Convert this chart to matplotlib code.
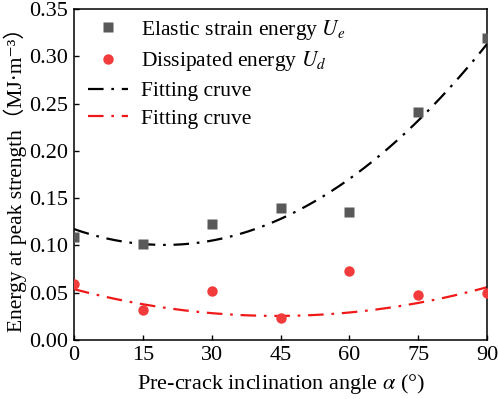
import numpy as np
import matplotlib
matplotlib.use("Agg")
import matplotlib.pyplot as plt

plt.rcParams['font.family'] = ['Liberation Serif', 'DejaVu Serif']
plt.rcParams['mathtext.fontset'] = 'stix'

angles = [0, 15, 30, 45, 60, 75, 90]
elastic = [0.109, 0.101, 0.123, 0.140, 0.135, 0.241, 0.319]
dissipated = [0.0595, 0.032, 0.052, 0.023, 0.073, 0.048, 0.050]
# fitted-curve values at each angle
elastic_fit = [0.117, 0.102, 0.105, 0.128, 0.170, 0.232, 0.313]
dissipated_fit = [0.0535, 0.038, 0.029, 0.025, 0.029, 0.039, 0.056]
xticks = [0, 15, 30, 45, 60, 75, 90]
yticks = [0.00, 0.05, 0.10, 0.15, 0.20, 0.25, 0.30, 0.35]

fig = plt.figure(figsize=(4.98, 3.99), dpi=100)
ax = fig.add_axes([74/498, 1-340/399, (487-74)/498, (340-9)/399])

xf = np.linspace(0, 90, 300)
ce = np.polyfit(angles, elastic_fit, 2)
cd = np.polyfit(angles, dissipated_fit, 2)

ax.plot(angles, elastic, 's', color='#595959', ms=6.5, mec='none', label='Elastic strain energy $U_e$', zorder=3)
ax.plot(angles, dissipated, 'o', color='#f23b3b', ms=7.5, mec='none', label='Dissipated energy $U_d$', zorder=3)
ax.plot(xf, np.polyval(ce, xf), color='black', lw=1.6, dashes=(7, 3.5, 1.2, 3.5), label='Fitting cruve')
ax.plot(xf, np.polyval(cd, xf), color='#f01818', lw=1.6, dashes=(7, 3.5, 1.2, 3.5), label='Fitting cruve')

ax.set_xlim(0, 90)
ax.set_ylim(0, 0.35)
ax.set_xticks(xticks)
ax.set_yticks(yticks)
ax.set_yticklabels([f"{v:.2f}" for v in yticks])
ax.tick_params(direction='in', length=3.5, width=1, labelsize=16, pad=4)
for s in ax.spines.values():
    s.set_linewidth(1.1)

ax.set_xlabel(r'Pre-crack inclination angle $\alpha$ (°)', fontsize=16, labelpad=5)
ax.set_ylabel('Energy at peak strength（MJ·m⁻³）', fontsize=15.5, labelpad=2,
              family=['Liberation Serif', 'Noto Sans CJK SC', 'DejaVu Sans'])

leg = ax.legend(loc='upper left', frameon=False, fontsize=15.5, handlelength=1.9,
                handletextpad=0.6, labelspacing=0.36, borderaxespad=0.0,
                bbox_to_anchor=(0.012, 1.0))

fig.savefig('out.png', dpi=100)
